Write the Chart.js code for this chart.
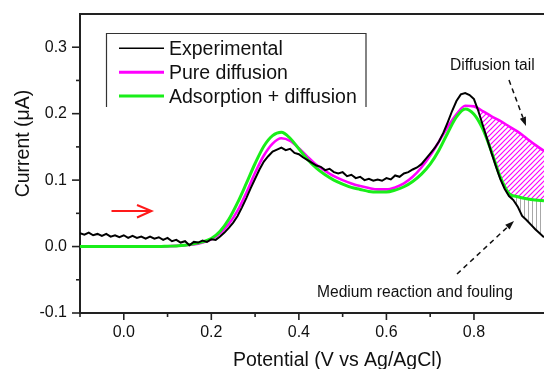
<!DOCTYPE html>
<html><head><meta charset="utf-8">
<script src="https://cdn.jsdelivr.net/npm/chart.js@4.4.1/dist/chart.umd.min.js"></script>
<style>html,body{margin:0;padding:0;background:#fff;overflow:hidden}canvas{display:block}</style>
</head><body>
<canvas id="c" width="544" height="369"></canvas>
<script>
// ---------- data ----------
const expPotential = [-0.10,-0.09,-0.08,-0.07,-0.06,-0.05,-0.04,-0.03,-0.02,-0.01,
  0.00,0.01,0.02,0.03,0.04,0.05,0.06,0.07,0.08,0.09,
  0.10,0.11,0.12,0.13,0.14,0.15,0.16,0.17,0.18,0.19,
  0.20,0.21,0.22,0.23,0.24,0.25,0.26,0.27,0.28,0.29,
  0.30,0.31,0.32,0.33,0.34,0.35,0.36,0.37,0.38,0.39,
  0.40,0.41,0.42,0.43,0.44,0.45,0.46,0.47,0.48,0.49,
  0.50,0.51,0.52,0.53,0.54,0.55,0.56,0.57,0.58,0.59,
  0.60,0.61,0.62,0.63,0.64,0.65,0.66,0.67,0.68,0.69,
  0.70,0.71,0.72,0.73,0.74,0.75,0.76,0.77,0.78,0.79,
  0.80,0.81,0.82,0.83,0.84,0.85,0.86,0.87,0.88,0.89,
  0.90,0.91,0.92,0.93,0.94,0.95,0.96];
const expCurrent = [0.020,0.018,0.021,0.017,0.019,0.016,0.019,0.015,0.017,0.014,
  0.017,0.013,0.016,0.013,0.015,0.012,0.015,0.012,0.014,0.010,
  0.013,0.008,0.010,0.006,0.008,0.002,0.007,0.006,0.009,0.007,
  0.011,0.010,0.015,0.021,0.028,0.036,0.046,0.059,0.073,0.088,
  0.102,0.116,0.128,0.136,0.143,0.146,0.149,0.145,0.147,0.141,
  0.139,0.134,0.130,0.126,0.122,0.120,0.115,0.117,0.112,0.110,
  0.112,0.106,0.108,0.103,0.105,0.100,0.102,0.099,0.101,0.099,
  0.103,0.101,0.107,0.105,0.110,0.112,0.116,0.119,0.124,0.132,
  0.140,0.148,0.158,0.171,0.187,0.204,0.219,0.229,0.231,0.228,
  0.222,0.204,0.183,0.162,0.141,0.121,0.102,0.087,0.076,0.070,
  0.060,0.046,0.040,0.033,0.026,0.020,0.014];
const fitPotential = [-0.10,-0.08,-0.06,-0.04,-0.02,0.00,0.02,0.04,0.06,0.08,
  0.10,0.12,0.14,0.16,0.18,0.20,0.22,0.24,0.26,0.28,
  0.30,0.32,0.34,0.36,0.38,0.40,0.42,0.44,0.46,0.48,
  0.50,0.52,0.54,0.56,0.58,0.60,0.62,0.64,0.66,0.68,
  0.70,0.72,0.74,0.76,0.78,0.80,0.82,0.84,0.86,0.88,
  0.90,0.92,0.94,0.96,0.98,1.00];
const pureDiffusion = [0,0,0,0,0,0,0,0,0,0,
  0.0005,0.001,0.002,0.003,0.006,0.011,0.020,0.034,0.054,0.081,
  0.111,0.137,0.155,0.163,0.159,0.148,0.135,0.123,0.114,0.106,
  0.100,0.095,0.091,0.088,0.086,0.086,0.089,0.095,0.105,0.119,
  0.137,0.158,0.180,0.199,0.212,0.211,0.204,0.196,0.189,0.181,
  0.173,0.163,0.153,0.144,0.137,0.131];
const adsorptionDiffusion = [0,0,0,0,0,0,0,0,0,0,
  0.0005,0.001,0.002,0.004,0.007,0.012,0.023,0.041,0.066,0.095,
  0.125,0.151,0.167,0.172,0.163,0.147,0.131,0.118,0.108,0.100,
  0.094,0.089,0.086,0.083,0.082,0.082,0.085,0.090,0.098,0.109,
  0.124,0.145,0.171,0.195,0.207,0.199,0.177,0.143,0.105,0.080,
  0.075,0.072,0.070,0.069,0.068,0.067];
const seriesNames = ['Experimental', 'Pure diffusion', 'Adsorption + diffusion'];
const xTitle = 'Potential (V vs Ag/AgCl)';
const yTitle = 'Current (\u03bcA)';
const noteTail = 'Diffusion tail';
const noteFouling = 'Medium reaction and fouling';
const tailFrom = 0.80;

// ---------- styles ----------
const FONT = "'Liberation Sans', Arial, sans-serif";
const C_EXP = '#000000', C_PURE = '#ff00ff', C_ADS = '#19ee19';

function pts(xs, ys) { return xs.map((x, i) => ({x: x, y: ys[i]})); }
const expPts = pts(expPotential, expCurrent);
const purePts = pts(fitPotential, pureDiffusion);
const adsPts = pts(fitPotential, adsorptionDiffusion);
const tail = a => a.filter(p => p.x >= tailFrom - 1e-9);

function diagPattern(color) {
  const s = 5, c = document.createElement('canvas'); c.width = s; c.height = s;
  const g = c.getContext('2d'); g.strokeStyle = color; g.lineWidth = 1.2;
  g.beginPath();
  g.moveTo(0, s); g.lineTo(s, 0);
  g.moveTo(-1, 1); g.lineTo(1, -1);
  g.moveTo(s - 1, s + 1); g.lineTo(s + 1, s - 1);
  g.stroke();
  return g.createPattern(c, 'repeat');
}
function vertPattern(color) {
  const c = document.createElement('canvas'); c.width = 4; c.height = 2;
  const g = c.getContext('2d'); g.fillStyle = color; g.fillRect(0, 0, 1, 2);
  return g.createPattern(c, 'repeat');
}
const NONE = 'rgba(0,0,0,0)';

const decor = {
  id: 'decor',
  afterDraw(chart) {
    const ctx = chart.ctx, a = chart.chartArea, xs = chart.scales.x, ys = chart.scales.y;
    ctx.save();
    // top frame
    ctx.strokeStyle = '#222'; ctx.lineWidth = 2;
    ctx.beginPath(); ctx.moveTo(a.left - 1, a.top); ctx.lineTo(chart.width, a.top); ctx.stroke();
    // tick marks
    ctx.lineWidth = 1.6;
    xs.ticks.forEach(t => {
      const v = t.value, k = Math.round(v * 10);
      if (Math.abs(v * 10 - k) > 1e-6) return;
      const px = xs.getPixelForValue(v), len = (k % 2 === 0) ? 7 : 4;
      ctx.beginPath(); ctx.moveTo(px, a.bottom); ctx.lineTo(px, a.bottom + len); ctx.stroke();
    });
    ys.ticks.forEach(t => {
      const v = t.value, k = Math.round(v * 20);
      if (Math.abs(v * 20 - k) > 1e-6 || v > ys.max - 1e-9) return;
      const py = ys.getPixelForValue(v), len = (k % 2 === 0) ? 8 : 4;
      ctx.beginPath(); ctx.moveTo(a.left, py); ctx.lineTo(a.left - len, py); ctx.stroke();
    });
    // axis titles
    ctx.fillStyle = '#111'; ctx.font = '19.5px ' + FONT;
    ctx.textAlign = 'center'; ctx.textBaseline = 'alphabetic';
    ctx.fillText(xTitle, 337.5, 366);
    ctx.save(); ctx.translate(29, 143.5); ctx.rotate(-Math.PI / 2); ctx.fillText(yTitle, 0, 0); ctx.restore();
    // legend
    ctx.strokeStyle = '#333'; ctx.lineWidth = 1.2;
    ctx.beginPath(); ctx.moveTo(106.5, 107); ctx.lineTo(106.5, 33.5); ctx.lineTo(366, 33.5); ctx.lineTo(366, 107); ctx.stroke();
    const rows = [[seriesNames[0], C_EXP, 1.6, 48.3], [seriesNames[1], C_PURE, 3, 72.3], [seriesNames[2], C_ADS, 3, 96]];
    ctx.textAlign = 'left'; ctx.font = '19.5px ' + FONT;
    rows.forEach(r => {
      ctx.strokeStyle = r[1]; ctx.lineWidth = r[2];
      ctx.beginPath(); ctx.moveTo(119, r[3]); ctx.lineTo(164, r[3]); ctx.stroke();
      ctx.fillStyle = '#111'; ctx.fillText(r[0], 169, r[3] + 7);
    });
    // annotations
    ctx.font = '15.6px ' + FONT; ctx.fillStyle = '#111';
    ctx.fillText(noteTail, 450, 69.5);
    ctx.fillText(noteFouling, 317, 296.5);
    // dashed arrows
    function dashedArrow(x1, y1, x2, y2) {
      ctx.strokeStyle = '#111'; ctx.fillStyle = '#111'; ctx.lineWidth = 1.5;
      const ang = Math.atan2(y2 - y1, x2 - x1), hl = 9, hw = 3.2;
      const bx = x2 - hl * Math.cos(ang), by = y2 - hl * Math.sin(ang);
      ctx.setLineDash([5, 4]);
      ctx.beginPath(); ctx.moveTo(x1, y1); ctx.lineTo(bx, by); ctx.stroke();
      ctx.setLineDash([]);
      ctx.beginPath(); ctx.moveTo(x2, y2);
      ctx.lineTo(bx + hw * Math.sin(ang), by - hw * Math.cos(ang));
      ctx.lineTo(bx - hw * Math.sin(ang), by + hw * Math.cos(ang));
      ctx.closePath(); ctx.fill();
    }
    dashedArrow(509, 80, 526, 126);
    dashedArrow(457, 274, 514, 221);
    // red scan-direction arrow
    ctx.strokeStyle = '#ff1a1a'; ctx.lineWidth = 2;
    ctx.beginPath(); ctx.moveTo(111.5, 211); ctx.lineTo(151.5, 211);
    ctx.moveTo(137, 205); ctx.lineTo(151.5, 211); ctx.lineTo(137, 217.5); ctx.stroke();
    ctx.restore();
  }
};

function noPad(s) { s.paddingLeft = 0; s.paddingRight = 0; s.paddingTop = 0; s.paddingBottom = 0; }
const tickFont = {family: FONT, size: 16};
new Chart(document.getElementById('c'), {
  type: 'line',
  data: {
    datasets: [
      {label: seriesNames[0], data: expPts, borderColor: C_EXP, borderWidth: 2, pointRadius: 0, tension: 0, fill: false},
      {label: seriesNames[2], data: adsPts, borderColor: C_ADS, borderWidth: 3, pointRadius: 0, cubicInterpolationMode: 'monotone', fill: false},
      {label: seriesNames[1], data: purePts, borderColor: C_PURE, borderWidth: 2.6, pointRadius: 0, cubicInterpolationMode: 'monotone', fill: false},
      {label: 'fouling', data: tail(adsPts), borderWidth: 0, borderColor: NONE, pointRadius: 0, cubicInterpolationMode: 'monotone', fill: {target: 5, above: vertPattern('#a8a8a8'), below: NONE}},
      {label: 'cover', data: tail(adsPts), borderWidth: 0, borderColor: NONE, pointRadius: 0, cubicInterpolationMode: 'monotone', fill: {target: 5, above: '#ffffff', below: NONE}},
      {label: 'expTail', data: tail(expPts), borderWidth: 0, borderColor: NONE, pointRadius: 0, tension: 0, fill: false},
      {label: 'diffTail', data: tail(purePts), borderWidth: 0, borderColor: NONE, pointRadius: 0, cubicInterpolationMode: 'monotone', fill: {target: 5, above: diagPattern('#ff00ff'), below: NONE}}
    ]
  },
  options: {
    responsive: false, animation: false, parsing: false,
    layout: {padding: {top: 14, left: 0, right: 0, bottom: 0}},
    plugins: {legend: {display: false}, tooltip: {enabled: false}, title: {display: false}},
    scales: {
      x: {type: 'linear', min: -0.1, max: 0.96,
        grid: {display: false, drawTicks: false},
        border: {display: true, color: '#222', width: 2},
        ticks: {stepSize: 0.1, autoSkip: false, maxRotation: 0, padding: 10, color: '#111', font: tickFont,
          callback: v => { const k = Math.round(v * 5); return Math.abs(v * 5 - k) < 1e-6 ? (Math.round(v * 10) / 10).toFixed(1) : ''; }},
        afterFit: s => { s.height = 56; noPad(s); }},
      y: {type: 'linear', min: -0.1, max: 0.35,
        grid: {display: false, drawTicks: false},
        border: {display: true, color: '#222', width: 2},
        ticks: {stepSize: 0.05, autoSkip: false, padding: 13, color: '#111', font: tickFont,
          callback: v => { const k = Math.round(v * 10); return (Math.abs(v * 10 - k) < 1e-6 && v < 0.34) ? (k / 10).toFixed(1) : ''; }},
        afterFit: s => { s.width = 80; noPad(s); }}
    }
  },
  plugins: [decor]
});
</script>
</body></html>
